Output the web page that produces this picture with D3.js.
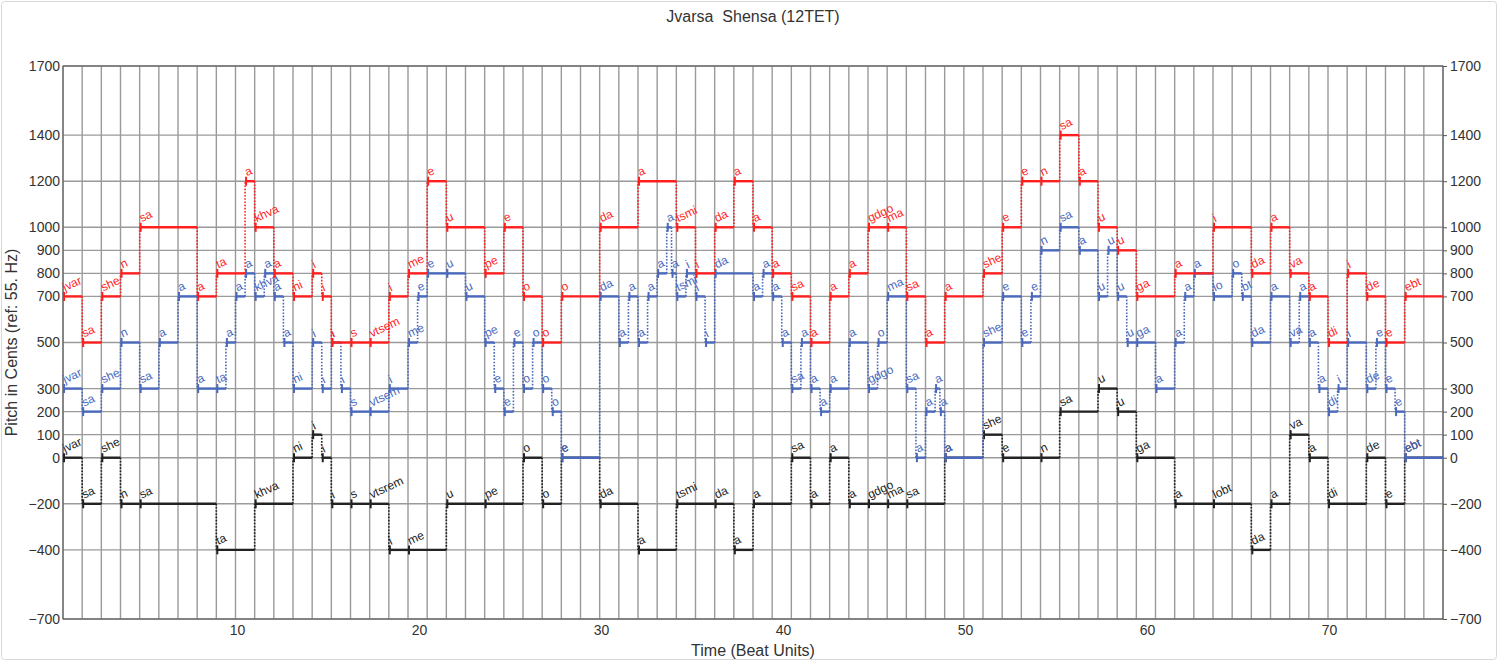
<!DOCTYPE html>
<html><head><meta charset="utf-8">
<script src="https://cdn.jsdelivr.net/npm/d3@7"></script>
<style>body{margin:0;background:#fff} svg{display:block;font-family:Arial,"Liberation Sans",sans-serif}</style>
</head><body><svg id="c" width="1498" height="661"></svg>
<script>
// ---- data ----
const titleText = "Jvarsa  Shensa (12TET)";
const yLabelText = "Pitch in Cents (ref: 55. Hz)";
const xLabelText = "Time (Beat Units)";
const yTicks = [-700,-400,-200,0,100,200,300,500,700,800,900,1000,1200,1400,1700];
const xTicks = [10,20,30,40,50,60,70];
const beatDomain = [0.44, 76.264];   // time span of the plot (beat units)
const gridCount = 72;                // number of score grid cells across the plot
// notes: [start cell, end cell, cents, syllable]
const topVoice = [
[0,1,700,"jvar"],[1,2,500,"sa"],[2,3,700,"she"],[3,4,800,"n"],[4,7,1000,"sa"],[7,8,700,"a"],
[8,9.5,800,"ta"],[9.5,10,1200,"a"],[10,11,1000,"khva"],[11,12,800,"a"],[12,13,700,"ni"],
[13,13.5,800,"i"],[13.5,14,700,"i"],[14,15,500,"i"],[15,16,500,"s"],[16,17,500,"vtsem"],
[17,18,700,"i"],[18,19,800,"me"],[19,20,1200,"e"],[20,22,1000,"u"],[22,23,800,"pe"],
[23,24,1000,"e"],[24,25,700,"o"],[25,26,500,"o"],[26,28,700,"o"],[28,30,1000,"da"],
[30,32,1200,"a"],[32,33,1000,"tsmi"],[33,34,800,"i"],[34,35,1000,"da"],[35,36,1200,"a"],
[36,37,1000,"a"],[37,38,800,"a"],[38,39,700,"sa"],[39,40,500,"a"],[40,41,700,"a"],
[41,42,800,"a"],[42,43,1000,"gdgo"],[43,44,1000,"ma"],[44,45,700,"sa"],[45,46,500,"a"],
[46,48,700,"a"],[48,49,800,"she"],[49,50,1000,"e"],[50,51,1200,"e"],[51,52,1200,"n"],
[52,53,1400,"sa"],[53,54,1200,"a"],[54,55,1000,"u"],[55,56,900,"u"],[56,58,700,"ga"],
[58,60,800,"a"],[60,62,1000,"i"],[62,63,800,"da"],[63,64,1000,"a"],[64,65,800,"va"],
[65,66,700,"a"],[66,67,500,"di"],[67,68,800,"i"],[68,69,700,"de"],[69,70,500,"e"],[70,72,700,"ebt"]
];
const middleVoice = [
[0,1,300,"jvar"],[1,2,200,"sa"],[2,3,300,"she"],[3,4,500,"n"],[4,5,300,"sa"],[5,6,500,"a"],
[6,7,700,"a"],[7,8,300,"a"],[8,8.5,300,"ta"],[8.5,9,500,"a"],[9,9.5,700,"a"],[9.5,10,800,"a"],
[10,10.5,700,"khva"],[10.5,11,800,"a"],[11,11.5,700,"a"],[11.5,12,500,"a"],[12,13,300,"ni"],
[13,13.5,500,"i"],[13.5,14,300,"i"],[14,14.5,500,"i"],[14.5,15,300,"i"],[15,16,200,"s"],
[16,17,200,"vtsem"],[17,18,300,"i"],[18,18.5,500,"me"],[18.5,19,700,"e"],[19,20,800,"e"],
[20,21,800,"u"],[21,22,700,"u"],[22,22.5,500,"pe"],[22.5,23,300,"e"],[23,23.5,200,"e"],
[23.5,24,500,"e"],[24,24.5,300,"o"],[24.5,25,500,"o"],[25,25.5,300,"o"],[25.5,26,200,"o"],
[26,28,0,"e"],[28,29,700,"da"],[29,29.5,500,"a"],[29.5,30,700,"a"],[30,30.5,500,"a"],
[30.5,31,700,"a"],[31,31.5,800,"a"],[31.5,31.75,1000,"a"],[31.75,32,800,"a"],
[32,32.5,700,"tsmi"],[32.5,33,800,"i"],[33,33.5,700,"i"],[33.5,34,500,"i"],[34,36,800,"da"],
[36,36.5,700,"a"],[36.5,37,800,"a"],[37,37.5,700,"a"],[37.5,38,500,"a"],[38,38.5,300,"sa"],
[38.5,39,500,"a"],[39,39.5,300,"a"],[39.5,40,200,"a"],[40,41,300,"a"],[41,42,500,"a"],
[42,42.5,300,"gdgo"],[42.5,43,500,"o"],[43,44,700,"ma"],[44,44.5,300,"sa"],[44.5,45,0,"a"],
[45,45.5,200,"a"],[45.5,45.75,300,"a"],[45.75,46,200,"a"],[46,48,0,"a"],[48,49,500,"she"],
[49,50,700,"e"],[50,50.5,500,"e"],[50.5,51,700,"e"],[51,52,900,"n"],[52,53,1000,"sa"],
[53,54,900,"a"],[54,54.5,700,"u"],[54.5,55,900,"u"],[55,55.5,700,"u"],[55.5,56,500,"u"],
[56,57,500,"ga"],[57,58,300,"a"],[58,58.5,500,"a"],[58.5,59,700,"a"],[59,60,800,"a"],
[60,61,700,"lo"],[61,61.5,800,"o"],[61.5,62,700,"bt"],[62,63,500,"da"],[63,64,700,"a"],
[64,64.5,500,"va"],[64.5,65,700,"a"],[65,65.5,500,"a"],[65.5,66,300,"a"],[66,66.5,200,"di"],
[66.5,67,300,"i"],[67,68,500,"i"],[68,68.5,300,"de"],[68.5,69,500,"e"],[69,69.5,300,"e"],
[69.5,70,200,"e"],[70,72,0,"ebt"]
];
const bassVoice = [
[0,1,0,"jvar"],[1,2,-200,"sa"],[2,3,0,"she"],[3,4,-200,"n"],[4,8,-200,"sa"],[8,10,-400,"ta"],
[10,12,-200,"khva"],[12,13,0,"ni"],[13,13.5,100,"i"],[13.5,14,0,"i"],[14,15,-200,"i"],
[15,16,-200,"s"],[16,17,-200,"vtsrem"],[17,18,-400,"i"],[18,20,-400,"me"],[20,22,-200,"u"],
[22,24,-200,"pe"],[24,25,0,"o"],[25,26,-200,"o"],[26,28,0,"e"],[28,30,-200,"da"],
[30,32,-400,"a"],[32,34,-200,"tsmi"],[34,35,-200,"da"],[35,36,-400,"a"],[36,38,-200,"a"],
[38,39,0,"sa"],[39,40,-200,"a"],[40,41,0,"a"],[41,42,-200,"a"],[42,43,-200,"gdgo"],
[43,44,-200,"ma"],[44,46,-200,"sa"],[46,48,0,"a"],[48,49,100,"she"],[49,51,0,"e"],
[51,52,0,"n"],[52,54,200,"sa"],[54,55,300,"u"],[55,56,200,"u"],[56,58,0,"ga"],
[58,60,-200,"a"],[60,62,-200,"lobt"],[62,63,-400,"da"],[63,64,-200,"a"],[64,65,100,"va"],
[65,66,0,"a"],[66,68,-200,"di"],[68,69,0,"de"],[69,70,-200,"e"],[70,72,0,"ebt"]
];
const voiceColors = {bass:"#222222", middle:"#4a69bd", top:"#ff1f1f"};

// ---- layout ----
const W = 1498, H = 661;
const m = {left:63, right:1443, top:66, bottom:619};
const svg = d3.select("#c");
const x = d3.scaleLinear().domain(beatDomain).range([m.left, m.right]);
const y = d3.scaleLinear().domain([-700,1700]).range([m.bottom, m.top]);
const cellToBeat = d3.scaleLinear().domain([0, gridCount]).range(beatDomain);
const cx = c => x(cellToBeat(c));

svg.append("rect").attr("x",1.5).attr("y",1.5).attr("width",W-3).attr("height",H-3)
  .attr("fill","#fff").attr("stroke","#d8d8d8").attr("rx",3);

// grid
const g = svg.append("g");
g.selectAll(".hg").data(yTicks).join("line")
  .attr("x1",m.left).attr("x2",m.right).attr("y1",d=>y(d)).attr("y2",d=>y(d))
  .attr("stroke","#9a9a9a").attr("stroke-width",1.4);
g.selectAll(".vg").data(d3.range(0,gridCount+1)).join("line")
  .attr("x1",d=>cx(d)).attr("x2",d=>cx(d)).attr("y1",m.top).attr("y2",m.bottom)
  .attr("stroke","#9a9a9a").attr("stroke-width",1.4);
svg.append("rect").attr("x",m.left).attr("y",m.top).attr("width",m.right-m.left).attr("height",m.bottom-m.top)
  .attr("fill","none").attr("stroke","#555").attr("stroke-width",1);

// axes
const fmt = d3.format("d");
const axL = svg.append("g").attr("transform",`translate(${m.left},0)`)
  .call(d3.axisLeft(y).tickValues(yTicks).tickFormat(fmt).tickSize(0).tickPadding(3));
const axR = svg.append("g").attr("transform",`translate(${m.right},0)`)
  .call(d3.axisRight(y).tickValues(yTicks).tickFormat(fmt).tickSize(4).tickPadding(3));
const axB = svg.append("g").attr("transform",`translate(0,${m.bottom})`)
  .call(d3.axisBottom(x).tickValues(xTicks).tickFormat(fmt).tickSize(0).tickPadding(6));
[axL,axR,axB].forEach(a=>{
  a.select(".domain").remove();
  a.selectAll("text").attr("font-size",14).attr("fill","#333").attr("font-family","Arial, Liberation Sans, sans-serif");
  a.selectAll("line").attr("stroke","#555");
});

// titles
svg.append("text").attr("x",(m.left+m.right)/2).attr("y",22).attr("text-anchor","middle")
  .attr("font-size",16).attr("fill","#333").style("white-space","pre").text(titleText);
svg.append("text").attr("x",(m.left+m.right)/2).attr("y",656).attr("text-anchor","middle")
  .attr("font-size",16).attr("fill","#333").text(xLabelText);
svg.append("text").attr("transform",`translate(17,${(m.top+m.bottom)/2}) rotate(-90)`)
  .attr("text-anchor","middle").attr("font-size",16).attr("fill","#333").text(yLabelText);

// voices
function drawVoice(notes, color){
  const vg = svg.append("g");
  const conns = notes.slice(1).map((n,i)=>({c:n[0], a:notes[i][2], b:n[2]})).filter(d=>d.a!==d.b);
  vg.selectAll(".cn").data(conns).join("line")
    .attr("x1",d=>cx(d.c)).attr("x2",d=>cx(d.c)).attr("y1",d=>y(d.a)).attr("y2",d=>y(d.b))
    .attr("stroke",color).attr("stroke-width",1.6).attr("stroke-dasharray","1.6,1.6");
  vg.selectAll(".nt").data(notes).join("line")
    .attr("x1",d=>cx(d[0])).attr("x2",d=>cx(d[1])).attr("y1",d=>y(d[2])).attr("y2",d=>y(d[2]))
    .attr("stroke",color).attr("stroke-width",2.4);
  vg.selectAll(".tk").data(notes).join("line")
    .attr("x1",d=>cx(d[0])+1).attr("x2",d=>cx(d[0])+1).attr("y1",d=>y(d[2])-4.5).attr("y2",d=>y(d[2])+4.5)
    .attr("stroke",color).attr("stroke-width",2);
  vg.selectAll(".lb").data(notes).join("text")
    .attr("transform",d=>`translate(${cx(d[0])+2},${y(d[2])-5}) rotate(-25)`)
    .attr("font-size",12).attr("fill",color).text(d=>d[3]);
}
drawVoice(bassVoice, voiceColors.bass);
drawVoice(middleVoice, voiceColors.middle);
drawVoice(topVoice, voiceColors.top);
</script></body></html>
